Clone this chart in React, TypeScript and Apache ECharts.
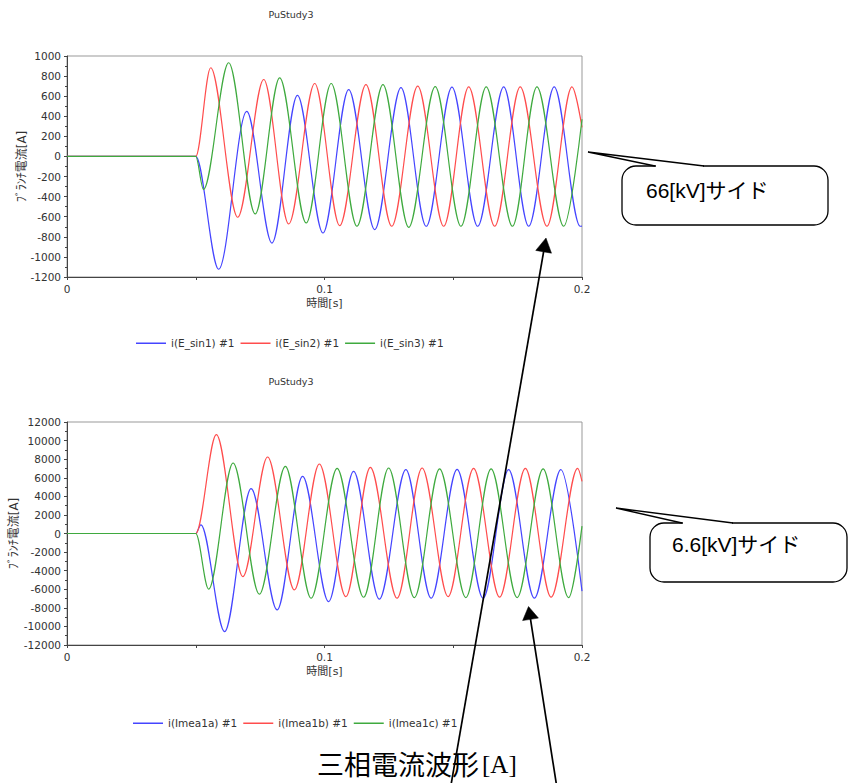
import React, { useEffect, useRef } from "react";
import * as echarts from "echarts";

// ---------- texts ----------
const TITLE = "PuStudy3";
const Y_NAME = "ﾌﾞﾗﾝﾁ電流[A]";
const X_NAME = "時間[s]";
const NAMES_66 = ["i(E_sin1) #1", "i(E_sin2) #1", "i(E_sin3) #1"];
const NAMES_6 = ["i(Imea1a) #1", "i(Imea1b) #1", "i(Imea1c) #1"];
const NOTE_66 = "66[kV]サイド";
const NOTE_6 = "6.6[kV]サイド";
const CAPTION_JA = "三相電流波形";
const CAPTION_UNIT = "[A]";

// ---------- axes ----------
const X_RANGE = [0, 0.2];
const X_STEP = 0.1;
const Y66_RANGE = [-1200, 1000];
const Y66_STEP = 200;
const Y6_RANGE = [-12000, 12000];
const Y6_STEP = 2000;

// ---------- 66 kV side (extrema) ----------
const t66a = [0, 0.05, 0.0589, 0.0698, 0.0796, 0.0895, 0.0994, 0.1094, 0.1195, 0.1297, 0.1395, 0.1495, 0.1595, 0.1696, 0.1793, 0.1892, 0.1993, 0.2];
const i66a = [0, 0, -1123, 448, -862, 609, -762, 666, -728, 685, -695, 690, -695, 692, -695, 692, -695, -693];
const t66b = [0, 0.05, 0.0558, 0.0663, 0.0764, 0.0861, 0.0962, 0.1059, 0.1161, 0.1261, 0.1362, 0.1463, 0.156, 0.1661, 0.176, 0.1864, 0.1961, 0.2];
const i66b = [0, 0, 883, -605, 766, -672, 726, -688, 716, -695, 700, -695, 692, -695, 692, -695, 692, 290];
const t66c = [0, 0.05, 0.053, 0.0628, 0.0731, 0.0826, 0.0929, 0.1026, 0.1126, 0.1227, 0.1327, 0.143, 0.153, 0.1628, 0.173, 0.1825, 0.1929, 0.2];
const i66c = [0, 0, -327, 933, -572, 782, -662, 726, -695, 716, -705, 695, -695, 692, -695, 692, -695, 370];

// ---------- 6.6 kV side ----------
const t6a = [0, 0.05, 0.052, 0.0612, 0.0715, 0.0816, 0.0915, 0.1016, 0.1113, 0.1213, 0.1316, 0.1414, 0.1515, 0.1616, 0.1715, 0.1815, 0.1918, 0.2];
const i6a = [0, 0, 938, -10560, 4820, -8225, 6145, -7330, 6680, -7070, 6870, -6965, 6900, -6965, 6870, -6965, 6870, -6200];
const t6b = [0, 0.05, 0.058, 0.0683, 0.0779, 0.0883, 0.098, 0.1083, 0.1178, 0.1282, 0.1379, 0.148, 0.1579, 0.168, 0.178, 0.188, 0.1983, 0.2];
const i6b = [0, 0, 10640, -4635, 8235, -6070, 7480, -6790, 7115, -6965, 7050, -6790, 7000, -6850, 7000, -6850, 7000, 5600];
const t6c = [0, 0.05, 0.055, 0.0645, 0.0747, 0.0848, 0.0948, 0.1049, 0.1152, 0.1249, 0.1349, 0.1447, 0.1549, 0.1647, 0.1748, 0.1849, 0.1948, 0.2];
const i6c = [0, 0, -5995, 7590, -6535, 7225, -6965, 7010, -6860, 7050, -6900, 6950, -6900, 6950, -6900, 6950, -6900, 800];

const COLORS = ["#4545ff", "#ff4d4d", "#3faa3f"];
const FONT = "'DejaVu Sans', 'Noto Sans CJK JP', sans-serif";
const TXT = "#333";

const zip = (t: number[], v: number[]) => t.map((x, k) => [x, v[k]]);

function mkSeries(name: string, t: number[], v: number[], color: string, idx: number) {
  return {
    type: "line",
    name,
    xAxisIndex: idx,
    yAxisIndex: idx,
    data: zip(t, v),
    symbol: "none",
    showSymbol: false,
    smooth: 1 / 3,
    smoothMonotone: "x",
    clip: true,
    lineStyle: { color, width: 1.2 },
    itemStyle: { color },
  };
}

function mkX(idx: number) {
  return {
    type: "value",
    gridIndex: idx,
    min: X_RANGE[0],
    max: X_RANGE[1],
    interval: X_STEP,
    name: X_NAME,
    nameLocation: "middle",
    nameGap: 21,
    nameMoveOverlap: false,
    nameTextStyle: { color: TXT, fontSize: 11, fontFamily: FONT },
    axisLine: { show: true, onZero: false, lineStyle: { color: "#444", width: 1 } },
    axisTick: { show: true, length: 3, lineStyle: { color: "#444" } },
    minorTick: { show: true, splitNumber: 2, length: 3, lineStyle: { color: "#444" } },
    splitLine: { show: false },
    axisLabel: { color: TXT, fontSize: 10.5, fontFamily: FONT, margin: 7, formatter: (v: number) => String(v) },
  };
}

function mkY(idx: number, range: number[], step: number, gap: number) {
  return {
    type: "value",
    gridIndex: idx,
    min: range[0],
    max: range[1],
    interval: step,
    name: Y_NAME,
    nameLocation: "middle",
    nameGap: gap,
    nameMoveOverlap: false,
    nameRotate: 90,
    nameTextStyle: { color: TXT, fontSize: 12, fontFamily: FONT },
    axisLine: { show: true, onZero: false, lineStyle: { color: "#444", width: 1 } },
    axisTick: { show: true, length: 3, lineStyle: { color: "#444" } },
    minorTick: { show: true, splitNumber: 2, length: 2, lineStyle: { color: "#444" } },
    splitLine: { show: false },
    axisLabel: { color: TXT, fontSize: 10.5, fontFamily: FONT, margin: 6, formatter: (v: number) => String(v) },
  };
}

function arrow(tail: number[], tip: number[], len: number, halfW: number) {
  const dx = tip[0] - tail[0];
  const dy = tip[1] - tail[1];
  const L = Math.sqrt(dx * dx + dy * dy);
  const ux = dx / L;
  const uy = dy / L;
  const bx = tip[0] - ux * len;
  const by = tip[1] - uy * len;
  const px = -uy;
  const py = ux;
  return [
    {
      type: "line",
      shape: { x1: tail[0], y1: tail[1], x2: bx + ux * 2, y2: by + uy * 2 },
      style: { stroke: "#000", lineWidth: 1.7 },
      z: 100,
    },
    {
      type: "polygon",
      shape: {
        points: [
          [tip[0], tip[1]],
          [bx + px * halfW, by + py * halfW],
          [bx - px * halfW, by - py * halfW],
        ],
      },
      style: { fill: "#000", stroke: "#000", lineWidth: 0.5 },
      z: 100,
    },
  ];
}

function plainText(text: string, x: number, y: number, size: number, family: string, color: string, align: string, z: number) {
  return {
    type: "text",
    x,
    y,
    style: {
      text,
      fill: color,
      fontSize: size,
      fontFamily: family,
      font: `${size}px ${family}`,
      align,
      textAlign: align,
      verticalAlign: "middle",
      textVerticalAlign: "middle",
    },
    z,
  };
}

function callout(
  rx: number, ry: number, rw: number, rh: number,
  tip: number[], b1: number, b2: number,
  text: string, tx: number, ty: number
) {
  return [
    {
      type: "rect",
      shape: { x: rx, y: ry, width: rw, height: rh, r: 14 },
      style: { fill: "#fff", stroke: "#000", lineWidth: 1.3 },
      z: 100,
    },
    {
      type: "line",
      shape: { x1: b1 + 1, y1: ry, x2: b2 - 1, y2: ry },
      style: { stroke: "#fff", lineWidth: 3 },
      z: 101,
    },
    {
      type: "polyline",
      shape: { points: [[b1, ry], tip, [b2, ry]] },
      style: { stroke: "#000", lineWidth: 1.3, fill: null },
      z: 102,
    },
    plainText(text, tx, ty, 21, "'Liberation Sans', 'Noto Sans CJK JP', sans-serif", "#000", "left", 103),
  ];
}

export default function App() {
  const ref = useRef<HTMLDivElement>(null);

  useEffect(() => {
    if (!ref.current) return;
    const chart = echarts.init(ref.current, null, { renderer: "svg" });
    const legendCommon = {
      icon: "rect",
      itemWidth: 30,
      itemHeight: 1.5,
      itemGap: 6,
      selectedMode: false,
      textStyle: { color: TXT, fontSize: 10.5, fontFamily: FONT },
      padding: 0,
    };
    const gridCommon = {
      left: 67,
      width: 515,
      show: true,
      borderColor: "#999",
      borderWidth: 1,
      backgroundColor: "#fff",
      containLabel: false,
      outerBoundsMode: "none",
    };
    const option: any = {
      animation: false,
      backgroundColor: "#fff",
      grid: [
        { ...gridCommon, top: 56, height: 221 },
        { ...gridCommon, top: 422, height: 223 },
      ],
      xAxis: [mkX(0), mkX(1)],
      yAxis: [mkY(0, Y66_RANGE, Y66_STEP, 39), mkY(1, Y6_RANGE, Y6_STEP, 47)],
      legend: [
        { ...legendCommon, data: NAMES_66, left: 136, top: 338 },
        { ...legendCommon, data: NAMES_6, left: 133, top: 718 },
      ],
      series: [
        mkSeries(NAMES_66[0], t66a, i66a, COLORS[0], 0),
        mkSeries(NAMES_66[1], t66b, i66b, COLORS[1], 0),
        mkSeries(NAMES_66[2], t66c, i66c, COLORS[2], 0),
        mkSeries(NAMES_6[0], t6a, i6a, COLORS[0], 1),
        mkSeries(NAMES_6[1], t6b, i6b, COLORS[1], 1),
        mkSeries(NAMES_6[2], t6c, i6c, COLORS[2], 1),
      ],
      graphic: {
        elements: [
          plainText(TITLE, 291, 14, 9.5, FONT, TXT, "center", 50),
          plainText(TITLE, 291, 381, 9.5, FONT, TXT, "center", 50),
          ...callout(622, 166, 206, 59, [588, 152], 655, 704, NOTE_66, 646, 190),
          ...callout(650, 523, 197, 59, [616, 508], 682, 733, NOTE_6, 672, 544),
          plainText(CAPTION_JA, 317, 763, 27, "'Noto Sans CJK JP', serif", "#000", "left", 99),
          plainText(CAPTION_UNIT, 482, 764, 25, "'Liberation Serif', serif", "#000", "left", 99),
          ...arrow([451, 785], [546, 238], 14, 8),
          ...arrow([556.5, 785], [528.5, 606.5], 13, 8),
        ],
      },
    };
    chart.setOption(option);
    return () => chart.dispose();
  }, []);

  return (
    <div
      ref={ref}
      style={{ position: "absolute", left: 0, top: 0, width: 850, height: 783, background: "#fff" }}
    />
  );
}
